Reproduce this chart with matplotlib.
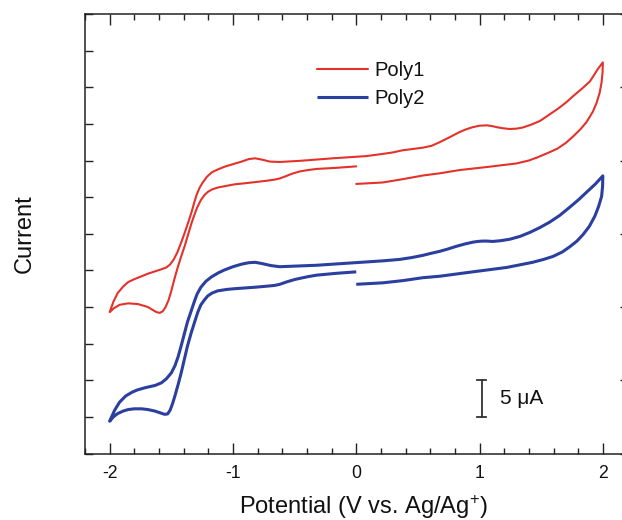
import matplotlib
matplotlib.use("Agg")
import matplotlib.pyplot as plt
from matplotlib.ticker import MultipleLocator, FixedLocator

plt.rcParams['font.family'] = ['Liberation Sans', 'DejaVu Sans']
plt.rcParams['mathtext.fontset'] = 'custom'
plt.rcParams['mathtext.rm'] = 'Liberation Sans'
plt.rcParams['mathtext.it'] = 'Liberation Sans:italic'
plt.rcParams['mathtext.bf'] = 'Liberation Sans:bold'

# ---------------- data (potential in V, current in uA, traces offset vertically) ----------------
# Each trace: lower-right branch (0 -> 2 V), upper branch (2 -> -2 V), lower-left branch (-2 -> 0 V)
poly1_x = [0.00, 0.215, 0.377, 0.54, 0.677, 0.84, 1.08, 1.30, 1.40, 1.465, 1.55, 1.63, 1.70, 1.76, 1.82,
           1.87, 1.92, 1.95, 1.975, 1.99, 1.998, 2.00,
           1.96, 1.93, 1.895, 1.83, 1.76, 1.70, 1.63, 1.56, 1.49, 1.42, 1.35, 1.30, 1.245, 1.19, 1.14,
           1.10, 1.06, 1.00, 0.945, 0.89, 0.84, 0.76, 0.677, 0.61, 0.54, 0.45, 0.377, 0.296, 0.215,
           0.08, -0.19, -0.46, -0.62, -0.70, -0.76, -0.82, -0.87, -0.93, -1.00, -1.06, -1.12, -1.17,
           -1.21, -1.245, -1.27, -1.295, -1.315, -1.335, -1.36, -1.39, -1.42, -1.45, -1.48, -1.51,
           -1.54, -1.58, -1.635, -1.69, -1.74, -1.80, -1.85, -1.89, -1.935, -1.97, -2.00,
           -1.968, -1.92, -1.85, -1.77, -1.69, -1.651, -1.62, -1.594, -1.57, -1.546, -1.521, -1.50,
           -1.475, -1.45, -1.42, -1.39, -1.36, -1.335, -1.31, -1.29, -1.26, -1.23, -1.205, -1.17,
           -1.125, -1.05, -0.985, -0.90, -0.82, -0.72, -0.66, -0.62, -0.58, -0.52, -0.46, -0.39,
           -0.32, -0.16, 0.00]
poly1_y = [36.8, 37.0, 37.45, 37.95, 38.25, 38.7, 39.15, 39.6, 40.0, 40.4, 41.0, 41.6, 42.4, 43.3, 44.3,
           45.3, 46.7, 47.9, 49.3, 50.7, 52.1, 53.4,
           52.5, 51.7, 50.8, 49.8, 48.8, 47.9, 47.0, 46.2, 45.4, 44.9, 44.5, 44.35, 44.3, 44.4, 44.55,
           44.7, 44.8, 44.75, 44.55, 44.25, 43.9, 43.2, 42.5, 42.0, 41.75, 41.55, 41.4, 41.1, 40.9,
           40.6, 40.3, 39.95, 39.8, 39.85, 40.1, 40.3, 40.2, 39.85, 39.5, 39.2, 38.8, 38.4,
           37.8, 37.0, 36.3, 35.3, 34.2, 33.0, 31.7, 30.2, 28.8, 27.5, 26.5, 25.8,
           25.4, 25.15, 24.85, 24.55, 24.2, 23.8, 23.4, 22.8, 21.9, 20.7, 19.3,
           19.8, 20.3, 20.5, 20.4, 20.0, 19.6, 19.3, 19.2, 19.4, 20.0, 21.0, 22.2,
           23.8, 25.3, 26.9, 28.4, 30.1, 31.5, 32.7, 33.6, 34.6, 35.3, 35.7, 36.05,
           36.3, 36.55, 36.75, 36.9, 37.05, 37.25, 37.4, 37.55, 37.8, 38.2, 38.5, 38.7,
           38.85, 39.0, 39.2]

poly2_x = [0.00, 0.215, 0.377, 0.54, 0.677, 0.945, 1.22, 1.43, 1.52, 1.595, 1.67, 1.73, 1.79, 1.84,
           1.89, 1.935, 1.965, 1.99, 1.998, 2.00,
           1.94, 1.87, 1.80, 1.73, 1.65, 1.57, 1.49, 1.41, 1.33, 1.245, 1.17, 1.107, 1.06, 1.026,
           0.985, 0.945, 0.88, 0.815, 0.74, 0.677, 0.60, 0.54, 0.45, 0.353, 0.215, -0.053, -0.32,
           -0.62, -0.69, -0.77, -0.82, -0.87, -0.93, -1.00, -1.07, -1.12, -1.175, -1.22, -1.26,
           -1.29, -1.31, -1.34, -1.37, -1.395, -1.42, -1.445, -1.47, -1.50, -1.54, -1.58, -1.63,
           -1.72, -1.78, -1.82, -1.87, -1.92, -1.96, -2.00,
           -1.97, -1.935, -1.89, -1.85, -1.80, -1.74, -1.69, -1.635, -1.59, -1.555, -1.53, -1.51,
           -1.49, -1.47, -1.445, -1.42, -1.395, -1.37, -1.34, -1.31, -1.285, -1.26, -1.23, -1.205,
           -1.17, -1.125, -1.05, -0.985, -0.82, -0.72, -0.66, -0.62, -0.56, -0.50, -0.46, -0.39,
           -0.32, -0.16, 0.00]
poly2_y = [23.1, 23.3, 23.6, 24.0, 24.2, 24.8, 25.4, 26.1, 26.5, 26.9, 27.5, 28.2, 29.0, 29.9,
           31.0, 32.4, 33.7, 35.1, 36.5, 37.9,
           36.8, 35.7, 34.6, 33.6, 32.5, 31.6, 30.85, 30.2, 29.65, 29.25, 29.05, 28.95, 29.0, 29.0,
           28.95, 28.85, 28.6, 28.3, 27.9, 27.6, 27.3, 27.05, 26.75, 26.5, 26.3, 26.0, 25.7,
           25.5, 25.65, 25.95, 26.1, 26.05, 25.85, 25.5, 25.05, 24.65, 24.1, 23.5, 22.7,
           21.8, 20.9, 19.4, 17.9, 16.3, 14.7, 13.2, 12.0, 11.0, 10.2, 9.65, 9.3,
           8.95, 8.65, 8.35, 7.85, 7.0, 5.9, 4.4,
           5.0, 5.45, 5.8, 6.0, 6.1, 6.1, 6.0, 5.8, 5.55, 5.35, 5.4, 5.9,
           6.8, 7.9, 9.4, 11.0, 12.8, 14.6, 16.4, 18.0, 19.3, 20.3, 21.0, 21.5,
           21.9, 22.2, 22.4, 22.5, 22.7, 22.85, 22.95, 23.1, 23.45, 23.75, 23.9, 24.15,
           24.35, 24.6, 24.8]

series_labels = ["Poly1", "Poly2"]
x_ticks = [-2, -1, 0, 1, 2]
x_tick_labels = ["-2", "-1", "0", "1", "2"]
scale_bar_uA = 5.0
scale_bar_x = 1.016
scale_bar_top = 10.0

# ---------------- figure ----------------
fig = plt.figure(figsize=(6.22, 5.20), dpi=100)
ax = fig.add_axes([85 / 622, 1 - 453.5 / 520, 542.5 / 622, 439.5 / 520])

red = "#e4322b"
blue = "#2b3f9e"
ax.plot(poly1_x, poly1_y, color=red, lw=1.5, label=series_labels[0],
        solid_joinstyle='round', solid_capstyle='round')
ax.plot(poly2_x, poly2_y, color=blue, lw=2.2, label=series_labels[1],
        solid_joinstyle='round', solid_capstyle='butt')

ax.set_xlim(-2.2, 2.2)
ax.set_ylim(0, 60)

ax.xaxis.set_major_locator(FixedLocator(x_ticks))
ax.set_xticklabels(x_tick_labels)
ax.xaxis.set_minor_locator(MultipleLocator(0.2))
ax.yaxis.set_major_locator(MultipleLocator(10))
ax.yaxis.set_minor_locator(MultipleLocator(5))
ax.set_yticklabels([])

spine_col = "#222222"
for s in ax.spines.values():
    s.set_linewidth(1.1)
    s.set_color(spine_col)

ax.tick_params(axis='x', which='major', direction='in', length=8, width=1.0, top=True, bottom=True,
               labelsize=12.7, pad=8, colors=spine_col, labelcolor="#111111")
ax.tick_params(axis='x', which='minor', direction='in', length=4, width=1.0, top=True, bottom=True,
               colors=spine_col)
ax.tick_params(axis='y', which='major', direction='in', length=5.5, width=1.0, left=True, right=True,
               colors=spine_col)
ax.tick_params(axis='y', which='minor', direction='in', length=5.5, width=1.0, left=True, right=False,
               colors=spine_col)

ax.set_xlabel("Potential (V vs. Ag/Ag$^{+}$)", fontsize=17, labelpad=8, color="#111111")
ax.xaxis.label.set_x(0.513)
ax.set_ylabel("Current", fontsize=17, labelpad=32, color="#111111")

# scale bar
cap = 0.035
ax.plot([scale_bar_x, scale_bar_x], [scale_bar_top - scale_bar_uA, scale_bar_top], color="#333333", lw=1.3)
ax.plot([scale_bar_x - cap, scale_bar_x + cap], [scale_bar_top, scale_bar_top], color="#333333", lw=1.3)
ax.plot([scale_bar_x - cap, scale_bar_x + cap], [scale_bar_top - scale_bar_uA] * 2, color="#333333", lw=1.3)
ax.text(scale_bar_x + 0.15, scale_bar_top - scale_bar_uA / 2, "5 \u03bcA", fontsize=15,
        va='center', ha='left', color="#111111")

leg = ax.legend(loc='upper left', bbox_to_anchor=((316.7 - 85) / 542.5, 1 - (61 - 14) / 439.5),
                frameon=False, fontsize=14.5, handlelength=2.55, handletextpad=0.3,
                labelspacing=0.45, borderpad=0, borderaxespad=0)
for t in leg.get_texts():
    t.set_color("#111111")

fig.savefig("out.png", dpi=100)
